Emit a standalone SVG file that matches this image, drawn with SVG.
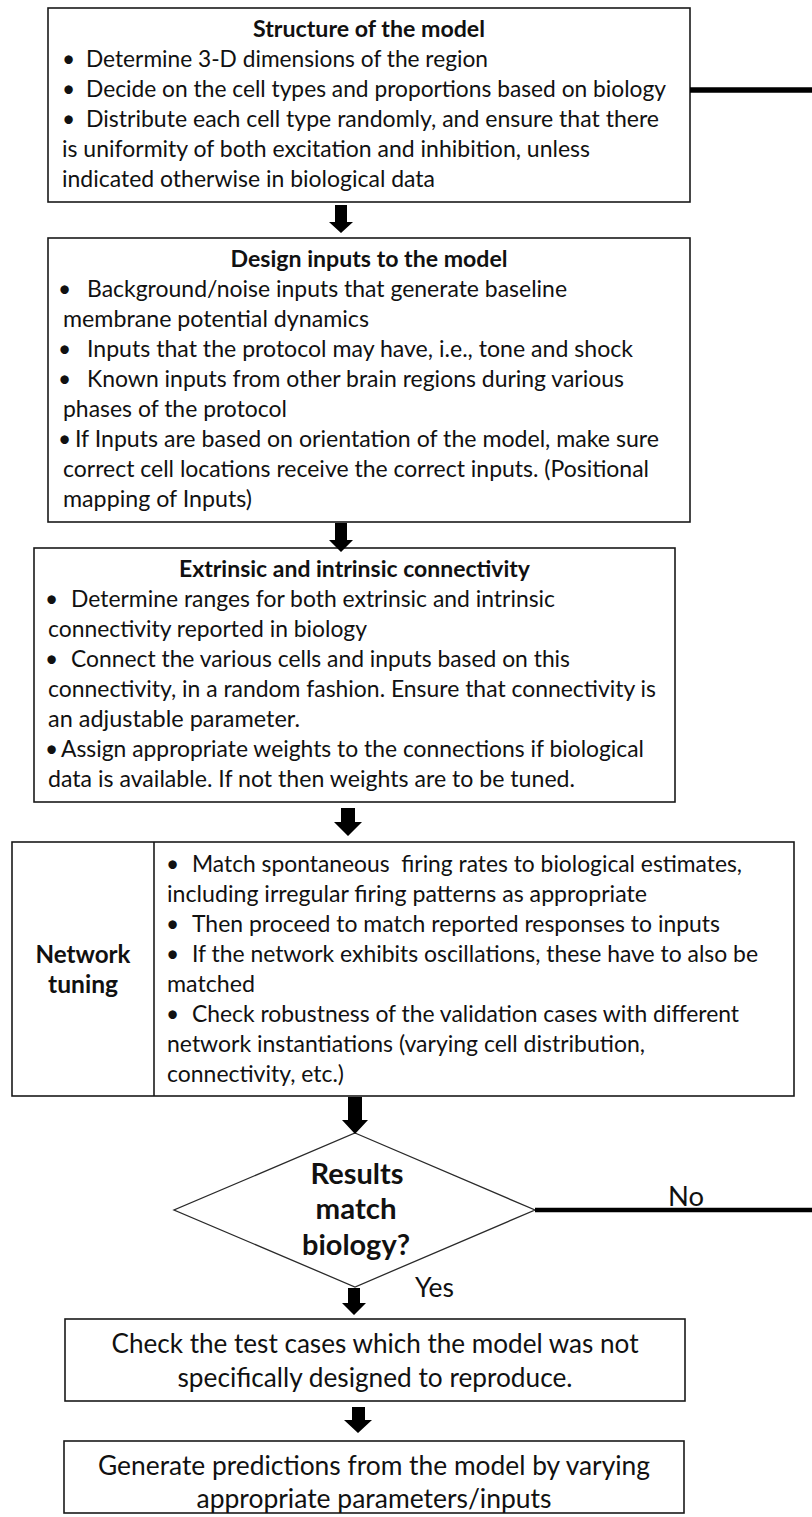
<svg xmlns="http://www.w3.org/2000/svg" width="812" height="1517" viewBox="0 0 812 1517">
  <style>
    .box { fill: #ffffff; stroke: #1a1a1a; stroke-width: 1.6; }
    .dia { fill: #ffffff; stroke: #2a2a2a; stroke-width: 1.3; }
    .t { font-family: Lato, "Open Sans", "Liberation Sans", sans-serif; font-size: 22.7px; fill: #111111; }
    .b { font-weight: bold; }
    .c { text-anchor: middle; }
    .big { font-size: 26px; }
    .q { font-size: 28.5px; font-weight: bold; }
    .nt { font-size: 24px; font-weight: bold; }
    .arrow { fill: #000000; }
    .wire { stroke: #000000; fill: none; }
  </style>
  <rect width="812" height="1517" fill="#ffffff"/>

  <!-- Step 1: model structure -->
  <g id="structure">
    <rect class="box" x="48" y="8" width="642" height="194"/>
    <text class="t b c" x="369" y="37" textLength="232" lengthAdjust="spacingAndGlyphs">Structure of the model</text>
    <text class="t" x="62" y="67">•</text>
    <text class="t" x="86" y="67" textLength="402" lengthAdjust="spacingAndGlyphs">Determine 3-D dimensions of the region</text>
    <text class="t" x="62" y="97">•</text>
    <text class="t" x="86" y="97" textLength="580" lengthAdjust="spacingAndGlyphs">Decide on the cell types and proportions based on biology</text>
    <text class="t" x="62" y="127">•</text>
    <text class="t" x="86" y="127" textLength="573" lengthAdjust="spacingAndGlyphs">Distribute each cell type randomly, and ensure that there</text>
    <text class="t" x="62" y="157" textLength="528" lengthAdjust="spacingAndGlyphs">is uniformity of both excitation and inhibition, unless</text>
    <text class="t" x="62" y="187" textLength="373" lengthAdjust="spacingAndGlyphs">indicated otherwise in biological data</text>
  </g>

  <!-- Step 2: inputs -->
  <g id="inputs">
    <rect class="box" x="48" y="238" width="642" height="284"/>
    <text class="t b c" x="369" y="267" textLength="277" lengthAdjust="spacingAndGlyphs">Design inputs to the model</text>
    <text class="t" x="58" y="297">•</text>
    <text class="t" x="87" y="297" textLength="480" lengthAdjust="spacingAndGlyphs">Background/noise inputs that generate baseline</text>
    <text class="t" x="63" y="327" textLength="306" lengthAdjust="spacingAndGlyphs">membrane potential dynamics</text>
    <text class="t" x="58" y="357">•</text>
    <text class="t" x="87" y="357" textLength="546" lengthAdjust="spacingAndGlyphs">Inputs that the protocol may have, i.e., tone and shock</text>
    <text class="t" x="58" y="387">•</text>
    <text class="t" x="87" y="387" textLength="537" lengthAdjust="spacingAndGlyphs">Known inputs from other brain regions during various</text>
    <text class="t" x="63" y="417" textLength="224" lengthAdjust="spacingAndGlyphs">phases of the protocol</text>
    <text class="t" x="58" y="447">•</text>
    <text class="t" x="75" y="447" textLength="584" lengthAdjust="spacingAndGlyphs">If Inputs are based on orientation of the model, make sure</text>
    <text class="t" x="63" y="477" textLength="586" lengthAdjust="spacingAndGlyphs">correct cell locations receive the correct inputs. (Positional</text>
    <text class="t" x="63" y="507" textLength="189" lengthAdjust="spacingAndGlyphs">mapping of Inputs)</text>
  </g>

  <!-- Step 3: connectivity -->
  <g id="connectivity">
    <rect class="box" x="34" y="548" width="641" height="254"/>
    <text class="t b c" x="354.5" y="577" textLength="351" lengthAdjust="spacingAndGlyphs">Extrinsic and intrinsic connectivity</text>
    <text class="t" x="45" y="607">•</text>
    <text class="t" x="71" y="607" textLength="484" lengthAdjust="spacingAndGlyphs">Determine ranges for both extrinsic and intrinsic</text>
    <text class="t" x="48" y="637" textLength="319" lengthAdjust="spacingAndGlyphs">connectivity reported in biology</text>
    <text class="t" x="45" y="667">•</text>
    <text class="t" x="71" y="667" textLength="499" lengthAdjust="spacingAndGlyphs">Connect the various cells and inputs based on this</text>
    <text class="t" x="48" y="697" textLength="608" lengthAdjust="spacingAndGlyphs">connectivity, in a random fashion. Ensure that connectivity is</text>
    <text class="t" x="48" y="727" textLength="252" lengthAdjust="spacingAndGlyphs">an adjustable parameter.</text>
    <text class="t" x="45" y="757">•</text>
    <text class="t" x="61" y="757" textLength="583" lengthAdjust="spacingAndGlyphs">Assign appropriate weights to the connections if biological</text>
    <text class="t" x="48" y="787" textLength="527" lengthAdjust="spacingAndGlyphs">data is available. If not then weights are to be tuned.</text>
  </g>

  <!-- Step 4: tuning -->
  <g id="tuning">
    <rect class="box" x="12" y="842" width="782" height="254"/>
    <line x1="154" y1="842" x2="154" y2="1096" stroke="#1a1a1a" stroke-width="1.6"/>
    <text class="t nt c" x="83" y="963" textLength="95" lengthAdjust="spacingAndGlyphs">Network</text>
    <text class="t nt c" x="83" y="993" textLength="70" lengthAdjust="spacingAndGlyphs">tuning</text>
    <text class="t" x="166" y="872">•</text>
    <text class="t" x="192" y="872" xml:space="preserve" textLength="550" lengthAdjust="spacingAndGlyphs">Match spontaneous  firing rates to biological estimates,</text>
    <text class="t" x="167" y="902" textLength="480" lengthAdjust="spacingAndGlyphs">including irregular firing patterns as appropriate</text>
    <text class="t" x="166" y="932">•</text>
    <text class="t" x="192" y="932" textLength="528" lengthAdjust="spacingAndGlyphs">Then proceed to match reported responses to inputs</text>
    <text class="t" x="166" y="962">•</text>
    <text class="t" x="192" y="962" textLength="566" lengthAdjust="spacingAndGlyphs">If the network exhibits oscillations, these have to also be</text>
    <text class="t" x="167" y="992" textLength="88" lengthAdjust="spacingAndGlyphs">matched</text>
    <text class="t" x="166" y="1022">•</text>
    <text class="t" x="192" y="1022" textLength="547" lengthAdjust="spacingAndGlyphs">Check robustness of the validation cases with different</text>
    <text class="t" x="167" y="1052" textLength="478" lengthAdjust="spacingAndGlyphs">network instantiations (varying cell distribution,</text>
    <text class="t" x="167" y="1082" textLength="177" lengthAdjust="spacingAndGlyphs">connectivity, etc.)</text>
  </g>

  <!-- Decision -->
  <g id="decision">
    <polygon class="dia" points="355,1133 535,1210 355,1287 174,1210"/>
    <text class="t q c" x="357" y="1184" textLength="93" lengthAdjust="spacingAndGlyphs">Results</text>
    <text class="t q c" x="356" y="1219" textLength="81" lengthAdjust="spacingAndGlyphs">match</text>
    <text class="t q c" x="356" y="1255" textLength="108" lengthAdjust="spacingAndGlyphs">biology?</text>
  </g>

  <!-- Step 5: test cases -->
  <g id="test-cases">
    <rect class="box" x="65" y="1319" width="620" height="82"/>
    <text class="t big c" x="375" y="1353" textLength="527" lengthAdjust="spacingAndGlyphs">Check the test cases which the model was not</text>
    <text class="t big c" x="375" y="1387" textLength="395" lengthAdjust="spacingAndGlyphs">specifically designed to reproduce.</text>
  </g>

  <!-- Step 6: predictions -->
  <g id="predictions">
    <rect class="box" x="64" y="1441" width="620" height="72"/>
    <text class="t big c" x="374" y="1475" textLength="552" lengthAdjust="spacingAndGlyphs">Generate predictions from the model by varying</text>
    <text class="t big c" x="374" y="1508" textLength="355" lengthAdjust="spacingAndGlyphs">appropriate parameters/inputs</text>
  </g>

  <!-- Connectors -->
  <g id="connectors">
    <path class="arrow" d="M335,205 H347 V222 H353 L341,233 L329,222 H335 Z"/>
    <path class="arrow" d="M335,523 H347 V540 H353 L341,552 L329,540 H335 Z"/>
    <path class="arrow" d="M341,808 H355 V822 H362 L348,836 L334,822 H341 Z"/>
    <path class="arrow" d="M348,1097 H362 V1120 H368 L355,1134 L342,1120 H348 Z"/>
    <path class="arrow" d="M348,1288 H360 V1303 H366 L354,1315 L342,1303 H348 Z"/>
    <path class="arrow" d="M352,1407 H365 V1420 H372 L358,1433 L344,1420 H352 Z"/>
    <line class="wire" x1="690" y1="90" x2="812" y2="90" stroke-width="5.5"/>
    <line class="wire" x1="535" y1="1210" x2="812" y2="1210" stroke-width="4.5"/>
    <text class="t big" x="668" y="1206" textLength="36" lengthAdjust="spacingAndGlyphs">No</text>
    <text class="t big" x="415" y="1297" textLength="39" lengthAdjust="spacingAndGlyphs">Yes</text>
  </g>
</svg>
